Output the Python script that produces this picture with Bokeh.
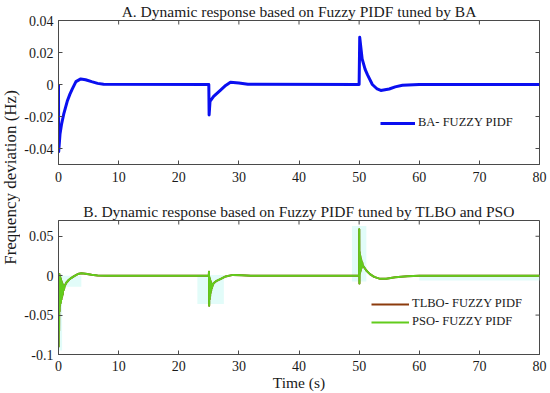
import math
from bokeh.plotting import figure
from bokeh.models import Range1d, FixedTicker, Legend, LegendItem
from bokeh.layouts import row, column
from bokeh.embed import file_html
from bokeh.resources import INLINE
from bokeh.core.properties import value

# ---------------- data ----------------
x_ticks = [0, 10, 20, 30, 40, 50, 60, 70, 80]
x_labels = ["0", "10", "20", "30", "40", "50", "60", "70", "80"]
top_y_ticks = [-0.04, -0.02, 0, 0.02, 0.04]
top_y_labels = ["-0.04", "-0.02", "0", "0.02", "0.04"]
bot_y_ticks = [-0.1, -0.05, 0, 0.05]
bot_y_labels = ["-0.1", "-0.05", "0", "0.05"]
x_min, x_max = 0, 80
top_y_min, top_y_max = -0.05, 0.04
bot_y_min, bot_y_max = -0.1, 0.07

title_a = "A. Dynamic response based on Fuzzy PIDF tuned by BA"
title_b = "B. Dynamic response based on Fuzzy PIDF tuned by TLBO and PSO"
y_label = "Frequency deviation (Hz)"
x_label = "Time (s)"

ba_t = [0, 0.03, 0.25, 0.5, 0.9, 1.45, 1.9, 2.3, 2.9, 3.7, 4.5, 5.5, 6.5, 7.5,
        25.0, 25.05, 25.2, 25.8, 27.0, 27.8, 28.6, 30.0, 31.5,
        50.0, 50.1, 50.5, 51.0, 51.4, 52.2, 53.0, 53.6, 55.0, 56.0, 57.2, 60.0, 80.0]
ba_y = [0, -0.042, -0.031, -0.025, -0.018, -0.0105, -0.006, -0.0027, 0.0018, 0.0035, 0.003, 0.0018, 0.0007, 0.0001,
        0, -0.019, -0.0105, -0.0074, -0.0033, -0.0006, 0.0014, 0.0009, 0.0001,
        0, 0.0295, 0.016, 0.0095, 0.006, 0.0, -0.0028, -0.0037, -0.0028, -0.0015, -0.0005, 0, 0]

pso_t = [0, 0.03, 0.07, 0.1, 0.14, 0.18, 0.22, 0.26, 0.3, 0.34, 0.38, 0.42, 0.46, 0.5, 0.55, 0.6, 0.65, 0.7,
         0.8, 0.9, 1.0, 1.3, 1.7, 2.1, 2.6, 3.2, 3.8, 4.5, 5.5, 6.5, 8.0,
         25.0, 25.03, 25.06, 25.1, 25.14, 25.18, 25.22, 25.26, 25.3, 25.35, 25.4, 25.45, 25.5, 25.6, 25.8,
         26.3, 27.0, 27.8, 29.0, 30.5, 32.0,
         50.0, 50.02, 50.05, 50.08, 50.11, 50.14, 50.17, 50.2, 50.24, 50.28, 50.32, 50.36, 50.4, 50.5, 50.6,
         50.8, 51.2, 51.8, 52.5, 53.5, 54.5, 56.0, 58.0, 60.0, 80.0]
pso_y = [0, -0.09, -0.005, -0.07, 0.002, -0.045, 0.0, -0.038, -0.002, -0.035, -0.004, -0.033, -0.006, -0.03,
         -0.008, -0.027, -0.01, -0.024, -0.012, -0.018, -0.0136, -0.009, -0.0055, -0.003, -0.0005, 0.002, 0.003,
         0.0025, 0.0012, 0.0003, 0,
         0, 0.005, -0.038, -0.002, -0.03, -0.004, -0.026, -0.006, -0.022, -0.008, -0.019, -0.01, -0.016, -0.013,
         -0.0095, -0.0065, -0.004, -0.001, 0.001, 0.0005, 0,
         0, 0.059, -0.01, 0.03, 0.002, 0.027, 0.004, 0.025, 0.006, 0.022, 0.008, 0.02, 0.01, 0.017, 0.013,
         0.011, 0.0065, 0.002, -0.0015, -0.004, -0.0038, -0.002, -0.0006, 0, 0]

# TLBO response lies underneath the PSO trace (not distinguishable in the picture)
tlbo_t = list(pso_t)
tlbo_y = list(pso_y)

# faint cyan halos visible around the oscillating parts
halo_left = [-1.0, 0.0, 23.1, 48.8, 60.0]
halo_right = [0.6, 3.8, 27.5, 51.2, 80.0]
halo_bottom = [-0.095, -0.014, -0.036, -0.0075, -0.006]
halo_top = [0.002, 0.0, 0.001, 0.063, 0.001]

# ---------------- styling helpers ----------------
FONT = "Liberation Serif"
TXT = "#1a1a1a"
AXC = "#4a4a4a"


def style_axis(ax, ticks, labels, standoff):
    ax.ticker = FixedTicker(ticks=ticks)
    ax.major_label_overrides = {t: l for t, l in zip(ticks, labels)}
    ax.major_tick_in = 4
    ax.major_tick_out = 0
    ax.minor_tick_line_color = None
    ax.axis_line_color = AXC
    ax.major_tick_line_color = AXC
    ax.major_label_text_font = FONT
    ax.major_label_text_color = TXT
    ax.major_label_text_font_size = "14px"
    ax.major_label_standoff = standoff


def make_fig(width, height, y_start, y_end, y_ticks, y_labels, borders, title, xstand):
    p = figure(width=width, height=height, output_backend="svg", toolbar_location=None,
               x_range=Range1d(x_min, x_max), y_range=Range1d(y_start, y_end),
               min_border_left=borders[0], min_border_right=borders[1],
               min_border_top=borders[2], min_border_bottom=borders[3],
               title=title)
    p.grid.visible = False
    p.outline_line_color = AXC
    p.background_fill_color = "white"
    p.border_fill_color = "white"
    p.title.text_font = FONT
    p.title.text_font_size = "15.5px"
    p.title.text_font_style = "normal"
    p.title.text_color = TXT
    p.title.align = "center"
    p.title.standoff = 1
    style_axis(p.xaxis[0], x_ticks, x_labels, xstand)
    style_axis(p.yaxis[0], y_ticks, y_labels, 5)
    # inward ticks on the top and right edges of the box
    p.scatter(x=x_ticks, y=[y_end] * len(x_ticks), marker="dash", angle=math.pi / 2, size=8,
              line_color=AXC, line_width=1)
    p.scatter(x=[x_max] * len(y_ticks), y=y_ticks, marker="dash", size=8,
              line_color=AXC, line_width=1)
    return p


# ---------------- top panel ----------------
p1 = make_fig(530, 192, top_y_min, top_y_max, top_y_ticks, top_y_labels, (38, 11, 19, 28), title_a, 7)
r_ba = p1.line(ba_t, ba_y, line_color="#0a0ff0", line_width=3, line_join="round")
leg1 = Legend(items=[LegendItem(label="BA- FUZZY PIDF", renderers=[r_ba])], location=(322, 34))

# ---------------- bottom panel ----------------
p2 = make_fig(530, 201, bot_y_min, bot_y_max, bot_y_ticks, bot_y_labels, (37, 9, 28, 39), title_b, 6)
xa = p2.xaxis[0]
xa.axis_label = x_label
xa.axis_label_standoff = 0
xa.axis_label_text_font = FONT
xa.axis_label_text_font_size = "15.5px"
xa.axis_label_text_font_style = "normal"
xa.axis_label_text_color = TXT
p2.quad(left=halo_left, right=halo_right, bottom=halo_bottom, top=halo_top,
        fill_color="#e2fcf9", line_color=None)
r_tlbo = p2.line(tlbo_t, tlbo_y, line_color="#8c3b0c", line_width=2, line_join="round")
r_pso = p2.line(pso_t, pso_y, line_color="#62cc1c", line_width=2, line_join="round")
leg2 = Legend(items=[LegendItem(label="TLBO- FUZZY PIDF", renderers=[r_tlbo]),
                     LegendItem(label="PSO- FUZZY PIDF", renderers=[r_pso])], location=(313, 25))

for lg, gw in [(leg1, 35), (leg2, 38)]:
    lg.border_line_color = None
    lg.background_fill_alpha = 0
    lg.padding = 0
    lg.margin = 0
    lg.spacing = 3
    lg.glyph_width = gw
    lg.glyph_height = 14
    lg.label_height = 14
    lg.label_standoff = 3
    lg.label_text_font = FONT
    lg.label_text_font_size = "12.5px"
    lg.label_text_color = TXT
p1.add_layout(leg1)
p2.add_layout(leg2)

# ---------------- shared y label ----------------
p_lab = figure(width=20, height=393, output_backend="svg", toolbar_location=None,
               x_range=Range1d(0, 20), y_range=Range1d(393, 0),
               x_axis_location=None, y_axis_location=None, min_border=0)
p_lab.grid.visible = False
p_lab.outline_line_color = None
p_lab.text(x=[10], y=[177], text=[y_label], angle=math.pi / 2, text_align="center",
           text_baseline="middle", text_font=value(FONT), text_font_size="17px", text_color=TXT)

layout = row(p_lab, column(p1, p2))

open("out.html", "w").write(file_html(layout, INLINE))
